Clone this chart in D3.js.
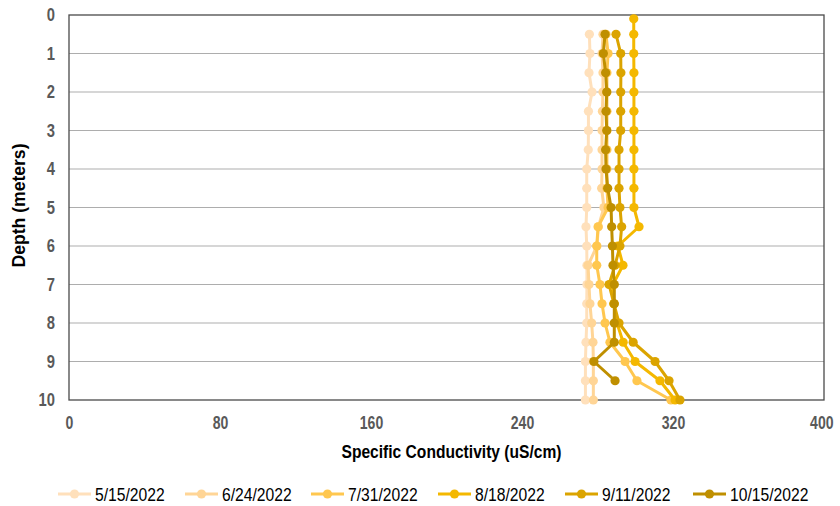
<!DOCTYPE html>
<html><head><meta charset="utf-8">
<script src="https://cdn.jsdelivr.net/npm/d3@7"></script>
<style>
html,body{margin:0;padding:0;background:#fff;}
svg{display:block;font-family:"Liberation Sans",Arial,sans-serif;}
</style></head>
<body><svg id="chart" width="840" height="506"></svg>
<script>
const seriesNames = ["5/15/2022","6/24/2022","7/31/2022","8/18/2022","9/11/2022","10/15/2022"];
const seriesColors = ["#FFE0BB","#FFD596","#FFC74F","#F4B800","#DBA400","#BF8F00"];
const xTicks = [0,80,160,240,320,400];
const yTicks = [0,1,2,3,4,5,6,7,8,9,10];

const depthsA = [0.5,1,1.5,2,2.5,3,3.5,4,4.5,5,5.5,6,6.5,7,7.5,8,8.5,9,9.5,10];
const depthsB = [0.1,0.5,1,1.5,2,2.5,3,3.5,4,4.5,5,5.5,6,6.5,7,7.5,8,8.5,9,9.5,10];
const depthsC = [0.5,1,1.5,2,2.5,3,3.5,4,4.5,5,5.5,6,6.5,7,7.5,8,8.5,9,9.5];

const cond0515 = [275.7,276.0,275.5,277.1,275.2,275.2,275.1,274.3,274.3,274.3,273.9,274.3,274.4,274.4,274.3,274.3,273.9,273.6,273.6,273.6];
const cond0624 = [282.9,282.4,282.9,282.9,282.6,282.4,282.4,282.4,282.2,283.4,280.5,279.7,275.0,275.5,276.0,276.9,277.6,277.8,277.8,277.8];
const cond0731 = [284.5,285.6,285.0,285.0,285.0,285.0,285.0,285.0,285.0,285.6,280.3,279.6,279.6,281.3,282.4,284.0,286.6,294.6,300.9,318.9];
const cond0818 = [299.2,299.2,299.2,299.3,299.3,299.3,299.3,299.3,299.3,299.3,299.3,302.0,290.8,293.5,288.2,288.7,290.3,293.6,299.9,313.1,321.1];
const cond0911 = [289.8,292.3,292.4,292.3,292.3,292.3,291.4,291.4,291.4,291.9,292.8,291.9,289.3,286.1,288.7,291.4,298.9,310.5,317.9,323.7];
const cond1015 = [284.0,283.1,284.3,284.9,284.5,284.9,284.3,284.5,285.4,287.2,287.5,287.9,288.2,288.9,288.9,288.9,288.9,278.1,289.3];

const seriesDepths = [depthsA,depthsA,depthsA,depthsB,depthsA,depthsC];
const seriesValues = [cond0515,cond0624,cond0731,cond0818,cond0911,cond1015];

const svg = d3.select("#chart");
const L = 69, R = 824, T = 15, B = 400;
const x = d3.scaleLinear().domain([0,400]).range([L,R]);
const y = d3.scaleLinear().domain([0,10]).range([T,B]);

function condense(sel, ratio){
  sel.each(function(){
    const w = this.getComputedTextLength();
    d3.select(this).attr("textLength", w*ratio).attr("lengthAdjust","spacingAndGlyphs");
  });
}

// gridlines
svg.append("g").selectAll("line").data(yTicks.filter(d=>d>0&&d<10)).join("line")
  .attr("x1",L).attr("x2",R).attr("y1",d=>y(d)).attr("y2",d=>y(d))
  .attr("stroke","#ADADAD").attr("stroke-width",1);

// border
svg.append("rect").attr("x",L).attr("y",T).attr("width",R-L).attr("height",B-T)
  .attr("fill","none").attr("stroke","#4a4a4a").attr("stroke-width",1.3);

// axes
const yAxis = svg.append("g").attr("transform",`translate(${L},0)`)
  .call(d3.axisLeft(y).tickValues(yTicks).tickSize(0).tickPadding(14).tickFormat(d3.format("d")));
yAxis.select(".domain").remove();
yAxis.selectAll("text").attr("font-size",18).attr("font-weight","bold").attr("fill","#595959")
  .attr("font-family","'Liberation Sans',Arial,sans-serif");
condense(yAxis.selectAll("text"),0.82);

const xAxis = svg.append("g").attr("transform",`translate(0,${B})`)
  .call(d3.axisBottom(x).tickValues(xTicks).tickSize(0).tickPadding(16).tickFormat(d3.format("d")));
xAxis.select(".domain").remove();
xAxis.selectAll("text").attr("font-size",18).attr("font-weight","bold").attr("fill","#595959")
  .attr("font-family","'Liberation Sans',Arial,sans-serif");
condense(xAxis.selectAll("text"),0.78);
xAxis.selectAll("text").filter(d=>d===400).attr("text-anchor","end").attr("x",9);

const xt = svg.append("text").attr("x",(L+R)/2+5).attr("y",458).attr("text-anchor","middle")
  .attr("font-size",18).attr("font-weight","bold").attr("fill","#000")
  .text("Specific Conductivity (uS/cm)");
xt.attr("textLength",220).attr("lengthAdjust","spacingAndGlyphs");
const yt = svg.append("text").attr("transform",`translate(25,${(T+B)/2-2}) rotate(-90)`).attr("text-anchor","middle")
  .attr("font-size",18).attr("font-weight","bold").attr("fill","#000")
  .text("Depth (meters)");
yt.attr("textLength",124).attr("lengthAdjust","spacingAndGlyphs");

// series
const line = d3.line().x(d=>x(d.v)).y(d=>y(d.d));
seriesNames.forEach((name,i)=>{
  const pts = seriesValues[i].map((v,j)=>({v:v,d:seriesDepths[i][j]}));
  const g = svg.append("g");
  g.append("path").datum(pts).attr("d",line).attr("fill","none")
    .attr("stroke",seriesColors[i]).attr("stroke-width",3).attr("stroke-linejoin","round");
  g.selectAll("circle").data(pts).join("circle")
    .attr("cx",d=>x(d.v)).attr("cy",d=>y(d.d)).attr("r",4.6).attr("fill",seriesColors[i]);
});

// legend
const legX = [58,185,311,438,565,693];
const lg = svg.append("g");
seriesNames.forEach((name,i)=>{
  const gx = legX[i], gy = 494;
  lg.append("line").attr("x1",gx).attr("x2",gx+33).attr("y1",gy).attr("y2",gy)
    .attr("stroke",seriesColors[i]).attr("stroke-width",3);
  lg.append("circle").attr("cx",gx+16.5).attr("cy",gy).attr("r",4.6).attr("fill",seriesColors[i]);
  const t = lg.append("text").attr("x",gx+37).attr("y",gy+6.5).attr("font-size",18).attr("fill","#000")
    .text(name);
  condense(t,0.87);
});
</script>
</body></html>
